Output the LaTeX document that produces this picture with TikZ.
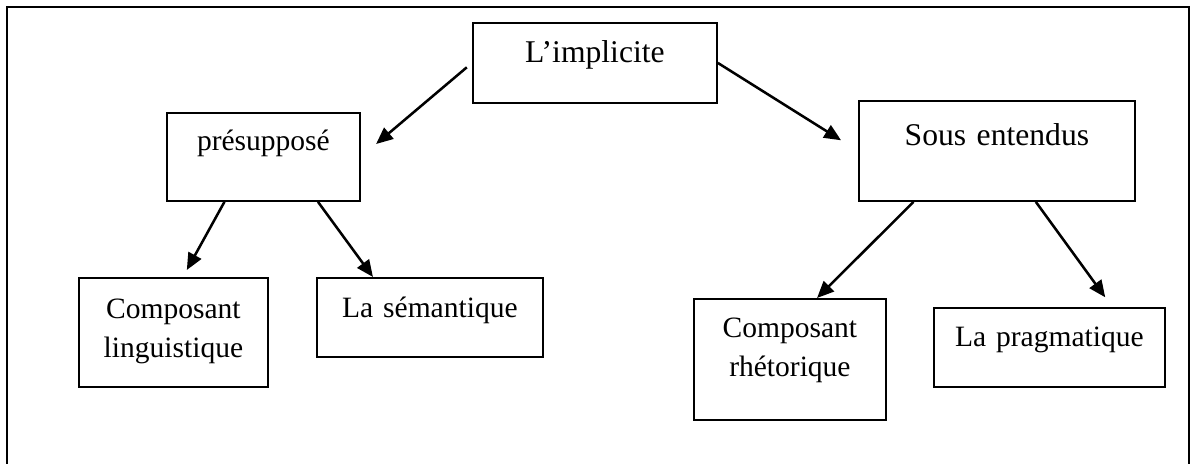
\documentclass[tikz,border=0pt]{standalone}
\usepackage{fontspec}
\setmainfont{Liberation Serif}
\usetikzlibrary{arrows.meta,calc}

\tikzset{
  box/.style={draw, line width=1.3pt, inner sep=0pt, align=center, anchor=north west,
              font=\fontsize{21}{27.7}\selectfont},
  bigbox/.style={box, font=\fontsize{22.5}{27.7}\selectfont},
  conn/.style={line width=1.8pt, -{Triangle[length=0.42cm,width=0.36cm]}}
}

\begin{document}
\begin{tikzpicture}
  \useasboundingbox (0,0) rectangle (29.8,-11.575);

  % Frame (its lower edge lies below the page)
  \draw[line width=1.4pt] (0.175,-11.8) -- (0.175,-0.175) -- (29.725,-0.175) -- (29.725,-11.8);

  % Boxes
  \node[bigbox, text width=6.1cm,   text height=1.0cm,   text depth=1.0cm]   (impl)  at (11.8,-0.55)    {L'implicite};
  \node[box,    text width=4.825cm, text height=0.95cm,  text depth=1.25cm]  (pres)  at (4.15,-2.8)     {présupposé};
  \node[bigbox, text width=6.9cm,   text height=1.125cm, text depth=1.375cm] (sous)  at (21.45,-2.5)    {Sous entendus};
  \node[box,    text width=4.725cm, text height=1.025cm, text depth=1.7cm]   (compl) at (1.95,-6.925)   {Composant\\linguistique};
  \node[box,    text width=5.65cm,  text height=1.0cm,   text depth=0.975cm] (sem)   at (7.9,-6.925)    {La sémantique};
  \node[box,    text width=4.8cm,   text height=0.975cm, text depth=2.05cm]  (rhet)  at (17.325,-7.45)  {Composant\\rhétorique};
  \node[box,    text width=5.775cm, text height=0.975cm, text depth=1.0cm]   (prag)  at (23.325,-7.675) {La pragmatique};

  % Arrows
  \draw[conn, shorten <=0.17cm, shorten >=0.5cm] (impl.west) -- (pres.east);
  \draw[conn, shorten >=0.5cm] (impl.east) -- (sous.west);
  \draw[conn, shorten >=0.2cm] ($(pres.south west)!0.3!(pres.south east)$) -- ($(compl.north west)!0.55!(compl.north east)$);
  \draw[conn] ($(pres.south west)!0.78!(pres.south east)$) -- ($(sem.north west)!0.25!(sem.north east)$);
  \draw[conn] ($(sous.south west)!0.2!(sous.south east)$) -- ($(rhet.north west)!0.64!(rhet.north east)$);
  \draw[conn, shorten >=0.3cm] ($(sous.south west)!0.64!(sous.south east)$) -- ($(prag.north west)!0.77!(prag.north east)$);
\end{tikzpicture}
\end{document}
